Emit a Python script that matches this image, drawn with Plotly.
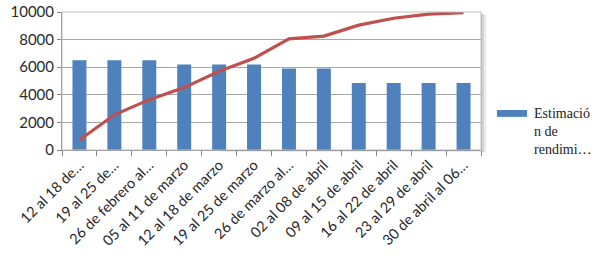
import plotly.graph_objects as go

categories = ["12 al 18 de…", "19 al 25 de…", "26 de febrero al…", "05 al 11 de marzo",
              "12 al 18 de marzo", "19 al 25 de marzo", "26 de marzo al…", "02 al 08 de abril",
              "09 al 15 de abril", "16 al 22 de abril", "23 al 29 de abril", "30 de abril al 06…"]
estimacion = [6500, 6500, 6500, 6200, 6200, 6200, 5900, 5900, 4850, 4850, 4850, 4850]
acumulado = [720, 2550, 3650, 4520, 5700, 6650, 8050, 8250, 9050, 9550, 9850, 9950]
y_ticks = [0, 2000, 4000, 6000, 8000, 10000]
y_tick_labels = ["0", "2000", "4000", "6000", "8000", "10000"]
legend_label = "Estimació<br>n de<br>rendimi…"

fig = go.Figure()
fig.add_trace(go.Bar(x=categories, y=estimacion, marker_color="#4F81BD",
                     marker_line_width=0, width=0.4, showlegend=False))
fig.add_trace(go.Scatter(x=categories, y=acumulado, mode="lines",
                         line=dict(color="#C0504D", width=3.2), showlegend=False))

fig.update_layout(
    width=600, height=267,
    margin=dict(l=62, r=119, t=12, b=117),
    paper_bgcolor="white", plot_bgcolor="white",
    font=dict(family="Lato, Carlito, sans-serif", size=14, color="#2a2a2a"),
    bargap=0.6,
    xaxis=dict(tickangle=-45, ticks="outside", tickson="boundaries", ticklen=5,
               tickcolor="#868686", showline=True, linecolor="#868686", linewidth=1,
               mirror=False, tickfont=dict(size=14.5), showgrid=False, automargin=False),
    yaxis=dict(range=[0, 10000], tickvals=y_ticks, ticktext=y_tick_labels,
               ticks="outside", ticklen=4,
               tickcolor="#868686", showline=True, linecolor="#868686",
               gridcolor="#a6a6a6", gridwidth=1, tickfont=dict(size=15),
               zeroline=False, automargin=False),
    shapes=[
        dict(type="rect", xref="paper", yref="paper", x0=0, x1=1, y0=0, y1=1,
             line=dict(color="#bfbfbf", width=1), fillcolor="rgba(0,0,0,0)"),
        dict(type="rect", xref="paper", yref="paper", x0=1.0, x1=1.007, y0=-0.015, y1=0.985,
             line=dict(width=0), fillcolor="rgba(120,120,120,0.35)"),
        dict(type="rect", xref="paper", yref="paper", x0=1.007, x1=1.013, y0=-0.02, y1=0.98,
             line=dict(width=0), fillcolor="rgba(120,120,120,0.15)"),
        dict(type="rect", xref="paper", yref="paper", x0=0.38, x1=1.0, y0=-0.015, y1=0.0,
             line=dict(width=0), fillcolor="rgba(120,120,120,0.15)"),
        dict(type="rect", xref="paper", yref="paper", x0=1.038, x1=1.110, y0=0.24, y1=0.29,
             line=dict(width=0), fillcolor="#4F81BD"),
    ],
    annotations=[
        dict(xref="paper", yref="paper", x=1.122, y=0.33, xanchor="left", yanchor="top",
             text=legend_label, showarrow=False, align="left",
             font=dict(family="Liberation Serif, serif", size=14, color="#222")),
    ],
)

fig.write_html("out.html")
